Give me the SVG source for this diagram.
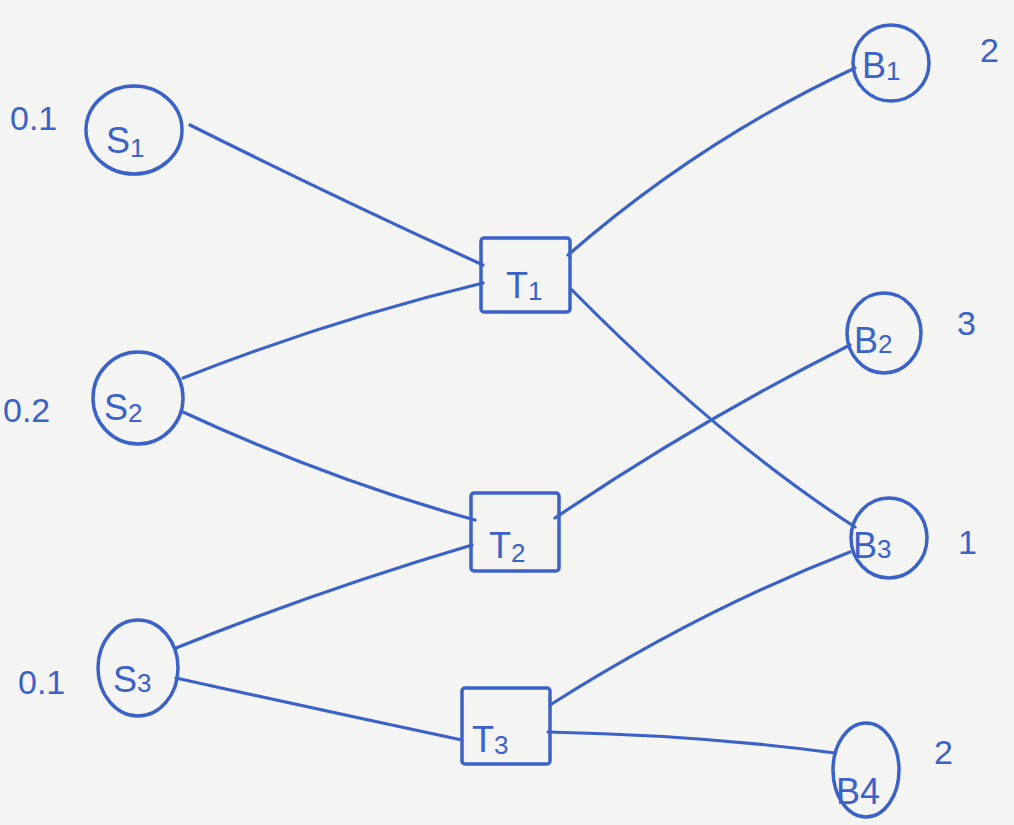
<svg xmlns="http://www.w3.org/2000/svg" width="1014" height="825" viewBox="0 0 1014 825">
<style>
.ln{stroke:#3a62c8;stroke-width:3.2;fill:none;stroke-linecap:round}
.nd{stroke:#3a62c8;stroke-width:3.5;fill:none}
.t{fill:#3a62c8;font-family:"Liberation Sans","DejaVu Sans",sans-serif;font-size:36px}
.s{font-size:26px}
.w{fill:#3a62c8;font-family:"Liberation Sans","DejaVu Sans",sans-serif;font-size:34px}
</style>
<rect width="1014" height="825" fill="#f4f4f2"/>
<g id="connectors">
<path class="ln" d="M190,125 Q330,195 483,265"/>
<path class="ln" d="M183,378 Q330,320 483,283"/>
<path class="ln" d="M183,412 Q330,480 475,520"/>
<path class="ln" d="M176,648 Q320,590 472,545"/>
<path class="ln" d="M176,678 Q320,710 462,740"/>
<path class="ln" d="M568,255 Q700,140 855,68"/>
<path class="ln" d="M572,290 Q720,440 855,527"/>
<path class="ln" d="M555,518 Q700,420 850,345"/>
<path class="ln" d="M550,705 Q700,610 850,552"/>
<path class="ln" d="M548,732 Q700,735 835,753"/>
</g>
<g id="S1"><ellipse class="nd" cx="134" cy="130" rx="48" ry="44"/><text class="t" x="106" y="153">S<tspan class="s" dy="4">1</tspan></text><text class="w" x="10" y="130">0.1</text></g>
<g id="S2"><ellipse class="nd" cx="138" cy="398" rx="45" ry="46"/><text class="t" x="104" y="420">S<tspan class="s" dy="2">2</tspan></text><text class="w" x="3" y="422">0.2</text></g>
<g id="S3"><ellipse class="nd" cx="138" cy="668" rx="40" ry="48"/><text class="t" x="113" y="692">S<tspan class="s" dy="0">3</tspan></text><text class="w" x="18" y="694">0.1</text></g>
<g id="T1"><rect class="nd" x="481" y="238" width="89" height="74" rx="3"/><text class="t" x="506" y="298">T<tspan class="s" dy="2">1</tspan></text></g>
<g id="T2"><rect class="nd" x="471" y="493" width="88" height="78" rx="3"/><text class="t" x="489" y="558">T<tspan class="s" dy="4">2</tspan></text></g>
<g id="T3"><rect class="nd" x="462" y="688" width="88" height="76" rx="3"/><text class="t" x="472" y="752">T<tspan class="s" dy="2">3</tspan></text></g>
<g id="B1"><ellipse class="nd" cx="891" cy="63" rx="38" ry="38"/><text class="t" x="862" y="78">B<tspan class="s" dy="2">1</tspan></text><text class="w" x="980" y="62">2</text></g>
<g id="B2"><ellipse class="nd" cx="884" cy="333" rx="37" ry="40"/><text class="t" x="854" y="353">B<tspan class="s" dy="0">2</tspan></text><text class="w" x="957" y="335">3</text></g>
<g id="B3"><ellipse class="nd" cx="889" cy="538" rx="38" ry="40"/><text class="t" x="853" y="558">B<tspan class="s" dy="0">3</tspan></text><text class="w" x="958" y="554">1</text></g>
<g id="B4"><ellipse class="nd" cx="866" cy="770" rx="33" ry="47"/><text class="t" x="836" y="804">B4</text><text class="w" x="934" y="764">2</text></g>
</svg>
